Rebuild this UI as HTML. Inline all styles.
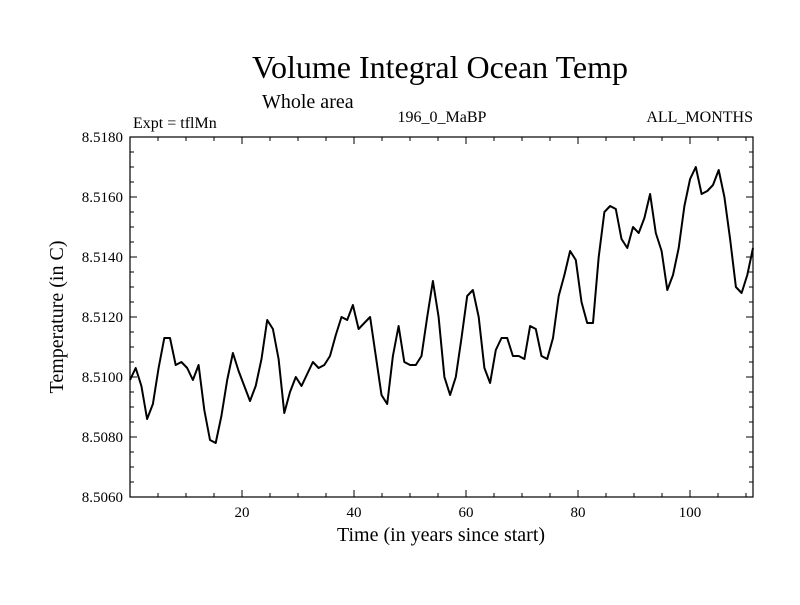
<!DOCTYPE html>
<html><head><meta charset="utf-8"><style>
body{margin:0;background:#fff}
svg text{font-family:"Liberation Serif",serif;fill:#000}
</style></head><body>
<svg id="chart" width="800" height="600">
<text x="440" y="78" font-size="32" text-anchor="middle">Volume Integral Ocean Temp</text>
<text x="262" y="108" font-size="20">Whole area</text>
<text x="133" y="128" font-size="16">Expt = tflMn</text>
<text x="442" y="122" font-size="16" text-anchor="middle">196_0_MaBP</text>
<text x="753" y="122" font-size="16" text-anchor="end">ALL_MONTHS</text>
<text x="441" y="541" font-size="20" text-anchor="middle">Time (in years since start)</text>
<text transform="translate(63,317) rotate(-90)" font-size="20" text-anchor="middle">Temperature (in C)</text>
<g id="axes"></g>
<path id="line" fill="none" stroke="#000" stroke-width="2" stroke-linejoin="round"/>
<rect x="130" y="137" width="623" height="360" fill="none" stroke="#000" stroke-width="1.2"/>
</svg>
<script>
const values=[8.5099,8.5103,8.5097,8.5086,8.5091,8.5103,8.5113,8.5113,8.5104,8.5105,8.5103,8.5099,8.5104,8.5089,8.5079,8.5078,8.5087,8.5099,8.5108,8.5102,8.5097,8.5092,8.5097,8.5106,8.5119,8.5116,8.5106,8.5088,8.5095,8.5100,8.5097,8.5101,8.5105,8.5103,8.5104,8.5107,8.5114,8.5120,
8.5119,8.5124,8.5116,8.5118,8.5120,8.5107,8.5094,8.5091,8.5107,8.5117,8.5105,8.5104,8.5104,8.5107,8.5120,8.5132,8.5120,8.5100,8.5094,8.5100,8.5113,8.5127,8.5129,8.5120,8.5103,8.5098,8.5109,8.5113,8.5113,8.5107,8.5107,8.5106,8.5117,8.5116,8.5107,8.5106,8.5113,
8.5127,8.5134,8.5142,8.5139,8.5125,8.5118,8.5118,8.5140,8.5155,8.5157,8.5156,8.5146,8.5143,8.5150,8.5148,8.5153,8.5161,8.5148,8.5142,8.5129,8.5134,8.5143,8.5157,8.5166,8.5170,8.5161,8.5162,8.5164,8.5169,8.5160,8.5146,8.5130,8.5128,8.5134,8.5143];
const xTicks=[20,40,60,80,100];
const yTicks=[8.506,8.508,8.510,8.512,8.514,8.516,8.518];
const xMin=0,xMax=111.25,yMin=8.506,yMax=8.518;
const L=130,R=753,T=137,B=497;
const sx=v=>L+(v-xMin)/(xMax-xMin)*(R-L);
const sy=v=>B-(v-yMin)/(yMax-yMin)*(B-T);
const ns="http://www.w3.org/2000/svg";
const g=document.getElementById('axes');
function ln(x1,y1,x2,y2,name){const e=document.createElementNS(ns,'line');e.setAttribute('x1',x1);e.setAttribute('y1',y1);e.setAttribute('x2',x2);e.setAttribute('y2',y2);e.setAttribute('stroke','#000');e.setAttribute('stroke-width','1');


g.appendChild(e);}
function tx(x,y,s,anchor,name){const e=document.createElementNS(ns,'text');e.setAttribute('x',x);e.setAttribute('y',y);e.setAttribute('font-size','15');e.setAttribute('text-anchor',anchor);e.textContent=s;


g.appendChild(e);}
xTicks.forEach(v=>{const x=sx(v);ln(x,B,x,B-7,'x-tick');ln(x,T,x,T+7,'x-tick-top');tx(x,B+20,String(v),'middle','x-tick-label');});
for(let v=5;v<xMax;v+=5){if(v%20){const x=sx(v);ln(x,B,x,B-4,'x-minor-tick');ln(x,T,x,T+4,'x-minor-tick-top');}}
yTicks.forEach(v=>{const y=sy(v);ln(L,y,L+7,y,'y-tick');ln(R,y,R-7,y,'y-tick-right');tx(L-7,y+5,v.toFixed(4),'end','y-tick-label');});
for(let k=0;k<yTicks.length-1;k++){for(let j=1;j<4;j++){const y=sy(yTicks[k]+j*0.0005);ln(L,y,L+4,y,'y-minor-tick');ln(R,y,R-4,y,'y-minor-tick-right');}}
const n=values.length;
let d='';values.forEach((v,i)=>{const yr=i*xMax/(n-1);d+=(i?'L':'M')+sx(yr).toFixed(1)+','+sy(v).toFixed(1);});
document.getElementById('line').setAttribute('d',d);
</script>
</body></html>
